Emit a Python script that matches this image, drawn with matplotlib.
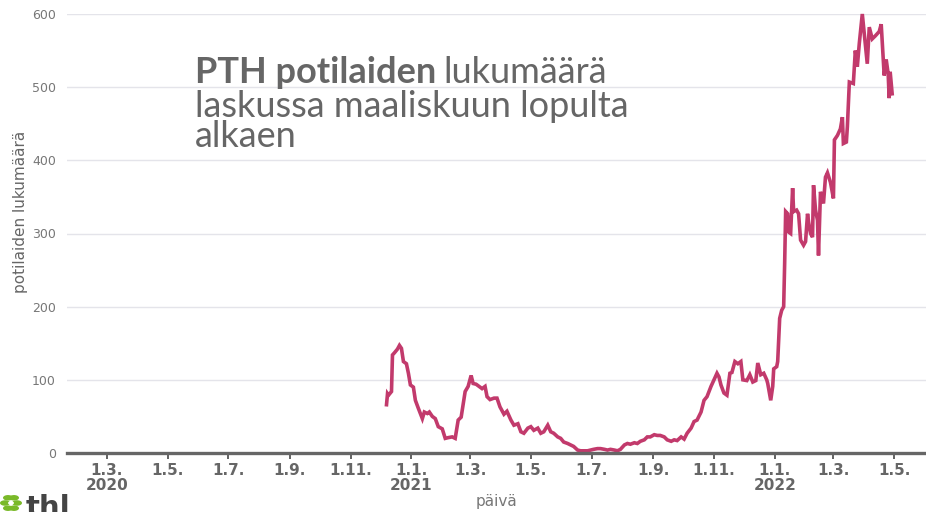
import pandas as pd
import numpy as np
import matplotlib.pyplot as plt
from matplotlib.patches import Circle

# data: day offsets from start_date, patient counts
start_date = '2020-12-01'
days = [6, 7, 8, 11, 12, 14, 17, 19, 21, 23, 26, 28, 30, 33, 35, 38, 42, 44, 47, 49,
        52, 55, 58, 62, 65, 68, 72, 75, 78, 81, 85, 88, 91, 93, 96, 99, 102, 105, 107, 110,
        114, 117, 120, 124, 127, 131, 134, 138, 141, 144, 148, 151, 154, 158, 161, 164, 168, 171, 174, 178,
        181, 184, 188, 191, 194, 198, 201, 204, 208, 211, 214, 218, 221, 225, 228, 231, 235, 238, 241, 245,
        248, 251, 255, 258, 261, 265, 268, 271, 275, 278, 281, 285, 288, 292, 295, 298, 302, 305, 308, 312,
        315, 318, 322, 325, 328, 332, 335, 338, 340, 342, 345, 348, 351, 353, 356, 359, 362, 364, 368, 371,
        374, 377, 379, 382, 385, 388, 389, 392, 394, 395, 398, 399, 401, 403, 405, 406, 407, 409, 410, 412,
        414, 415, 418, 420, 422, 425, 427, 429, 430, 432, 434, 435, 437, 439, 440, 442, 445, 447, 449, 452,
        455, 456, 459, 462, 464, 465, 468, 469, 471, 475, 477, 479, 481, 484, 486, 489, 491, 494, 497, 501,
        503, 506, 508, 510, 511, 512, 514]
patients = [66, 81, 79, 84, 134, 137, 142, 147, 143, 125, 122, 109, 93, 90, 72, 61, 47, 56, 54, 56,
            50, 47, 36, 33, 20, 21, 22, 20, 45, 49, 84, 91, 106, 95, 94, 91, 88, 91, 77, 73,
            75, 75, 63, 53, 57, 45, 38, 40, 29, 27, 34, 36, 31, 34, 27, 29, 38, 29, 27, 22,
            20, 15, 13, 11, 9, 4, 3, 3, 3, 4, 5, 6, 6, 5, 4, 5, 4, 3, 5, 11,
            13, 12, 14, 13, 16, 18, 22, 22, 25, 24, 24, 22, 18, 16, 18, 17, 22, 19, 27, 34,
            43, 45, 56, 72, 77, 91, 100, 109, 104, 93, 82, 79, 109, 110, 125, 122, 125, 100, 99, 107,
            97, 99, 123, 107, 109, 100, 95, 72, 91, 115, 118, 125, 184, 195, 200, 259, 330, 327, 302, 300,
            362, 330, 332, 327, 291, 284, 289, 327, 316, 300, 295, 366, 332, 318, 270, 357, 341, 377, 383, 370,
            348, 428, 434, 443, 459, 423, 425, 446, 507, 505, 550, 528, 560, 600, 573, 532, 582, 566, 570, 576,
            586, 516, 538, 518, 485, 521, 491]

tick_dates = ['2020-03-01', '2020-05-01', '2020-07-01', '2020-09-01', '2020-11-01',
              '2021-01-01', '2021-03-01', '2021-05-01', '2021-07-01', '2021-09-01', '2021-11-01',
              '2022-01-01', '2022-03-01', '2022-05-01']
tick_labels = ['1.3.\n2020', '1.5.', '1.7.', '1.9.', '1.11.',
               '1.1.\n2021', '1.3.', '1.5.', '1.7.', '1.9.', '1.11.',
               '1.1.\n2022', '1.3.', '1.5.']
y_ticks = [0, 100, 200, 300, 400, 500, 600]

dates = pd.Timestamp(start_date) + pd.to_timedelta(days, unit='D')

fig = plt.figure(figsize=(9.26, 5.12), dpi=100)
ax = fig.add_axes([67/926, 59/512, 859/926, 439/512])

ax.plot(dates, patients, color='#c23a6c', lw=2.6, solid_joinstyle='miter', clip_on=False, zorder=3)

ax.set_xlim(pd.Timestamp('2020-01-21'), pd.Timestamp('2022-06-02'))
ax.set_ylim(0, 600)
ax.set_xticks(pd.to_datetime(tick_dates))
ax.set_xticklabels(tick_labels, fontweight='bold', fontsize=11, color='#666666', linespacing=1.0)
ax.set_yticks(y_ticks)
ax.set_yticklabels([str(v) for v in y_ticks], fontsize=9, color='#777777')
ax.tick_params(axis='y', length=0, pad=8)
ax.tick_params(axis='x', length=4, width=1.3, color='#555555', pad=3)

for s in ['top', 'right', 'left']:
    ax.spines[s].set_visible(False)
ax.spines['bottom'].set_color('#666666')
ax.spines['bottom'].set_linewidth(2.4)
ax.spines['bottom'].set_zorder(4)
ax.grid(axis='y', color='#e4e4ea', lw=1)
ax.set_axisbelow(True)

ax.set_xlabel('päivä', fontsize=11, color='#777777', labelpad=1)
ax.set_ylabel('potilaiden lukumäärä', fontsize=11, color='#666666')
ax.yaxis.set_label_coords(-0.045, 0.549)

# title text inside the plot
tfont = 'Lato'
tsize = 26
fig.canvas.draw()
r = fig.canvas.get_renderer()
t1 = fig.text(195/926, 1 - 83/512, 'PTH potilaiden', fontsize=tsize, fontweight='bold',
              family=tfont, color='#666666', va='baseline')
bb = t1.get_window_extent(r)
fig.text(bb.x1/926 + 7/926, 1 - 83/512, 'lukumäärä', fontsize=tsize, family=tfont,
         color='#666666', va='baseline')
fig.text(195/926, 1 - 117/512, 'laskussa maaliskuun lopulta', fontsize=tsize, family=tfont,
         color='#666666', va='baseline')
fig.text(195/926, 1 - 147/512, 'alkaen', fontsize=tsize, family=tfont,
         color='#666666', va='baseline')

# thl logo, cut off at the bottom edge
for a in np.linspace(0, 2*np.pi, 6, endpoint=False):
    fig.patches.append(Circle((11/926 + 6*np.cos(a)/926, 1 - 503/512 + 6*np.sin(a)/512), 5/926,
                              transform=fig.transFigure, color='#7ab929', ec='none'))
fig.patches.append(Circle((11/926, 1 - 503/512), 3/926, transform=fig.transFigure,
                          color='white', ec='none'))
fig.text(26/926, 1 - 516/512, 'thl', fontsize=21, fontweight='bold', color='#444444', va='baseline')

fig.savefig('out.png', dpi=100)
